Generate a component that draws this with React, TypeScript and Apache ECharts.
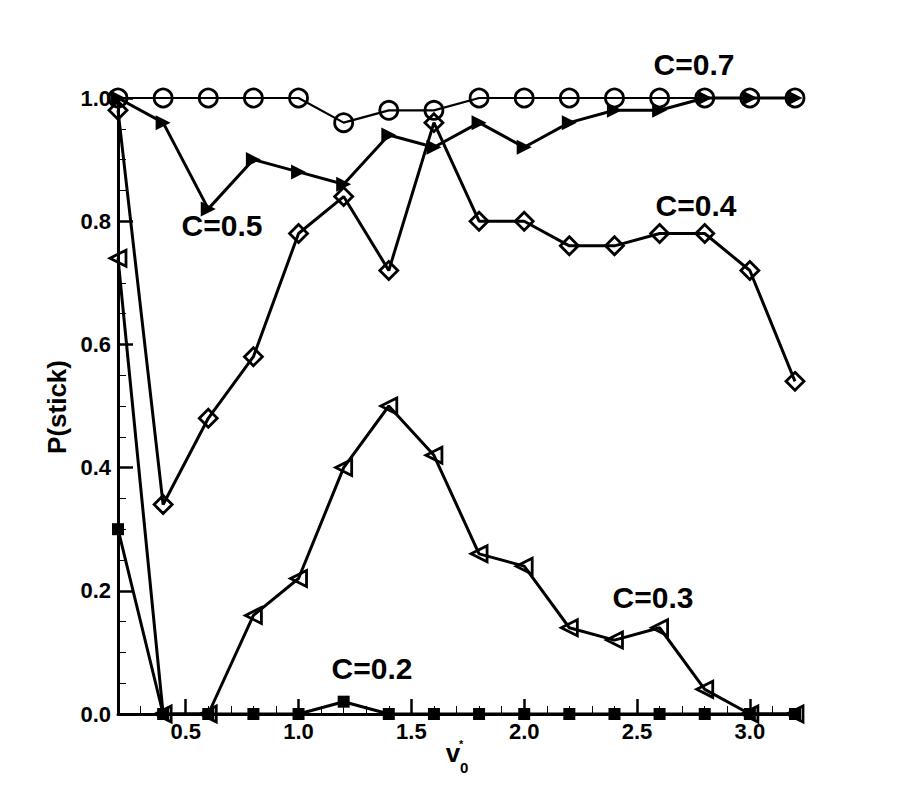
import React, { useEffect, useRef } from 'react';
import * as echarts from 'echarts';

const xValues = [0.2, 0.4, 0.6, 0.8, 1.0, 1.2, 1.4, 1.6, 1.8, 2.0, 2.2, 2.4, 2.6, 2.8, 3.0, 3.2];
const c02 = [0.30, 0, 0, 0, 0, 0.02, 0, 0, 0, 0, 0, 0, 0, 0, 0, 0];
const c03 = [0.74, 0, 0, 0.16, 0.22, 0.40, 0.50, 0.42, 0.26, 0.24, 0.14, 0.12, 0.14, 0.04, 0, 0];
const c04 = [0.98, 0.34, 0.48, 0.58, 0.78, 0.84, 0.72, 0.96, 0.80, 0.80, 0.76, 0.76, 0.78, 0.78, 0.72, 0.54];
const c05 = [1.0, 0.96, 0.82, 0.90, 0.88, 0.86, 0.94, 0.92, 0.96, 0.92, 0.96, 0.98, 0.98, 1.0, 1.0, 1.0];
const c07 = [1.0, 1.0, 1.0, 1.0, 1.0, 0.96, 0.98, 0.98, 1.0, 1.0, 1.0, 1.0, 1.0, 1.0, 1.0, 1.0];

const xMajorTicks = [0.5, 1.0, 1.5, 2.0, 2.5, 3.0];
const xMinorTicks = [0.3, 0.4, 0.6, 0.7, 0.8, 0.9, 1.1, 1.2, 1.3, 1.4, 1.6, 1.7, 1.8, 1.9, 2.1, 2.2, 2.3, 2.4, 2.6, 2.7, 2.8, 2.9, 3.1];

const FONT = 'Liberation Sans, Arial, Helvetica, sans-serif';

const pair = (ys: number[]) => ys.map((y, i) => [xValues[i], y]);

export default function App() {
  const ref = useRef<HTMLDivElement>(null);
  useEffect(() => {
    document.body.style.margin = '0';
    const chart = echarts.init(ref.current!, null, { renderer: 'svg' });
    const baseLine = (name: string, data: number[], extra: any) => ({
      type: 'line',
      name,
      data: pair(data),
      clip: false,
      lineStyle: { color: '#000', width: 3 },
      emphasis: { disabled: true },
      silent: true,
      ...extra,
    });
    const annot = (text: string, x: number, y: number) => ({
      type: 'text',
      x,
      y,
      style: {
        text,
        fill: '#000',
        font: `bold 30px ${FONT}`,
        align: 'center',
        verticalAlign: 'middle',
      },
    });
    chart.setOption({
      animation: false,
      backgroundColor: '#fff',
      grid: { left: 118, right: 108, top: 98, bottom: 89, outerBoundsMode: 'none' },
      xAxis: [
        {
          type: 'value',
          min: 0.2,
          max: 3.2,
          axisLine: { show: true, onZero: false, lineStyle: { color: '#000', width: 3 } },
          axisTick: { show: true, inside: true, length: 15, customValues: xMajorTicks, lineStyle: { color: '#000', width: 2.5 } },
          axisLabel: {
            customValues: xMajorTicks,
            formatter: (v: number) => v.toFixed(1),
            color: '#000',
            fontFamily: FONT,
            fontWeight: 'bold',
            fontSize: 22,
            margin: 6,
          },
          splitLine: { show: false },
        },
        {
          type: 'value',
          min: 0.2,
          max: 3.2,
          position: 'bottom',
          axisLine: { show: false, onZero: false },
          axisTick: { show: true, inside: true, length: 8, customValues: xMinorTicks, lineStyle: { color: '#000', width: 1 } },
          axisLabel: { show: false },
          splitLine: { show: false },
        },
      ],
      yAxis: {
        type: 'value',
        min: 0,
        max: 1.0,
        interval: 0.2,
        axisLine: { show: true, onZero: false, lineStyle: { color: '#000', width: 3 } },
        axisTick: { show: true, inside: true, length: 15, lineStyle: { color: '#000', width: 2.5 } },
        minorTick: { show: true, splitNumber: 4, length: 8, lineStyle: { color: '#000', width: 1 } },
        axisLabel: {
          formatter: (v: number) => v.toFixed(1),
          color: '#000',
          fontFamily: FONT,
          fontWeight: 'bold',
          fontSize: 22,
          margin: 7,
        },
        splitLine: { show: false },
      },
      series: [
        baseLine('C=0.7', c07, {
          symbol: 'circle',
          symbolSize: 18,
          itemStyle: { color: 'rgba(0,0,0,0)', borderColor: '#000', borderWidth: 2.8 },
          lineStyle: { color: '#000', width: 2.2 },
        }),
        baseLine('C=0.5', c05, {
          symbol: 'triangle',
          symbolSize: 15,
          symbolRotate: -90,
          itemStyle: { color: '#000', borderColor: '#000', borderWidth: 0 },
        }),
        baseLine('C=0.4', c04, {
          symbol: 'diamond',
          symbolSize: 18,
          itemStyle: { color: 'rgba(0,0,0,0)', borderColor: '#000', borderWidth: 2.8 },
        }),
        baseLine('C=0.3', c03, {
          symbol: 'triangle',
          symbolSize: 16,
          symbolRotate: 90,
          itemStyle: { color: 'rgba(0,0,0,0)', borderColor: '#000', borderWidth: 2.8 },
        }),
        baseLine('C=0.2', c02, {
          symbol: 'rect',
          symbolSize: 12,
          itemStyle: { color: '#000', borderColor: '#000', borderWidth: 0 },
        }),
      ],
      graphic: [
        annot('C=0.7', 694, 64),
        annot('C=0.5', 222, 225),
        annot('C=0.4', 696, 205),
        annot('C=0.3', 653, 597),
        annot('C=0.2', 372, 668),
        {
          type: 'text',
          x: 57,
          y: 407,
          rotation: Math.PI / 2,
          style: {
            text: 'P(stick)',
            fill: '#000',
            font: `bold 26px ${FONT}`,
            align: 'center',
            verticalAlign: 'middle',
          },
        },
        {
          type: 'text',
          x: 453,
          y: 766,
          style: { text: 'v', fill: '#000', font: `bold 26px ${FONT}`, align: 'center', verticalAlign: 'bottom' },
        },
        {
          type: 'text',
          x: 460,
          y: 775,
          style: { text: '0', fill: '#000', font: `bold 15px ${FONT}`, align: 'left', verticalAlign: 'bottom' },
        },
        {
          type: 'text',
          x: 459,
          y: 738,
          style: { text: '*', fill: '#000', font: `bold 11px ${FONT}`, align: 'left', verticalAlign: 'top' },
        },
      ],
    });
    return () => chart.dispose();
  }, []);
  return <div ref={ref} style={{ width: 903, height: 803 }} />;
}
